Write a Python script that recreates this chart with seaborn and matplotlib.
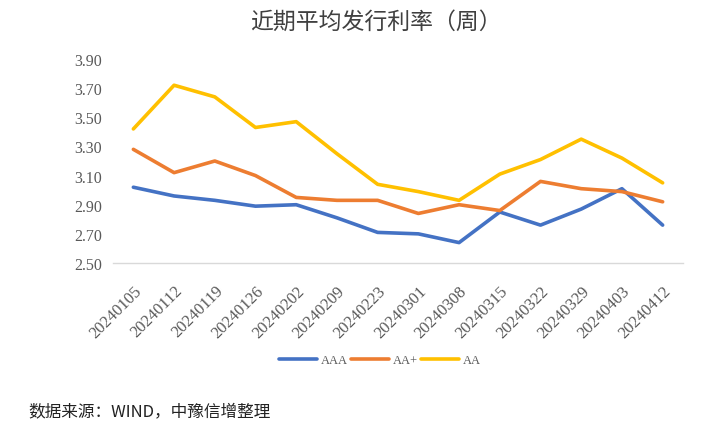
import pandas as pd
import seaborn as sns
import matplotlib.pyplot as plt

# Datos
fechas = ["20240105", "20240112", "20240119", "20240126", "20240202", "20240209", "20240223",
          "20240301", "20240308", "20240315", "20240322", "20240329", "20240403", "20240412"]
aaa = [3.02, 2.96, 2.93, 2.89, 2.90, 2.81, 2.71, 2.70, 2.64, 2.85, 2.76, 2.87, 3.01, 2.76]
aa_plus = [3.28, 3.12, 3.20, 3.10, 2.95, 2.93, 2.93, 2.84, 2.90, 2.86, 3.06, 3.01, 2.99, 2.92]
aa = [3.42, 3.72, 3.64, 3.43, 3.47, 3.25, 3.04, 2.99, 2.93, 3.11, 3.21, 3.35, 3.22, 3.05]
y_ticks = [2.50, 2.70, 2.90, 3.10, 3.30, 3.50, 3.70, 3.90]

df = pd.DataFrame({"fecha": fechas, "AAA": aaa, "AA+": aa_plus, "AA": aa})
df_long = df.melt(id_vars="fecha", var_name="rating", value_name="tasa")

sns.set_style("white")
plt.rcParams['font.family'] = ['Noto Sans CJK SC', 'DejaVu Sans']

colores = {"AAA": "#4472C4", "AA+": "#ED7D31", "AA": "#FFC000"}
gris = "#595959"

fig = plt.figure(figsize=(7.19, 4.39), dpi=100)
ax = fig.add_axes([113 / 719, 1 - 264 / 439, 570 / 719, 204 / 439])

sns.lineplot(data=df_long, x="fecha", y="tasa", hue="rating", palette=colores,
             linewidth=2.6, sort=False, ax=ax, legend=True)

ax.set_xlim(-0.5, len(fechas) - 0.5)
ax.set_ylim(2.50, 3.90)
ax.set_yticks(y_ticks)
ax.set_yticklabels([f"{v:.2f}" for v in y_ticks], fontfamily="Liberation Serif",
                   fontsize=11.5, color=gris)
ax.set_xticks(range(len(fechas)))
ax.set_xticklabels(fechas, rotation=45, ha="right", rotation_mode="anchor",
                   fontfamily="Liberation Serif", fontsize=12, color=gris)
ax.tick_params(axis="y", length=0, pad=8)
ax.tick_params(axis="x", length=0, pad=14)
ax.set_xlabel("")
ax.set_ylabel("")

for lado in ["top", "right", "left"]:
    ax.spines[lado].set_visible(False)
ax.spines["bottom"].set_color("#D9D9D9")
ax.spines["bottom"].set_linewidth(1)

handles, labels = ax.get_legend_handles_labels()
ax.get_legend().remove()
fig.legend(handles, labels, loc="center", bbox_to_anchor=(380 / 719, 1 - 361 / 439),
           ncol=3, frameon=False, handlelength=3.0, columnspacing=0.3,
           handletextpad=0.3, labelcolor=gris, prop={"family": "Liberation Serif", "size": 9})

fig.text(376 / 719, 1 - 22 / 439, "近期平均发行利率（周）", ha="center", va="center",
         fontsize=16.5, color="#404040")
fig.text(28 / 719, 1 - 412 / 439, "数据来源：WIND，中豫信增整理", ha="left", va="center",
         fontsize=12, color="#222222")

fig.savefig("out.png", dpi=100)
